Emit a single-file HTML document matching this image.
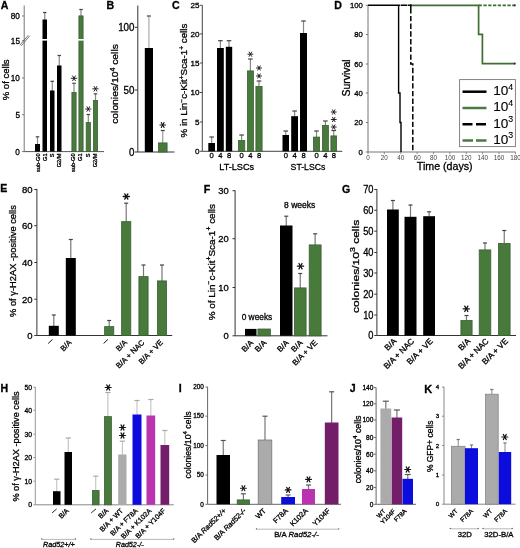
<!DOCTYPE html>
<html><head><meta charset="utf-8"><style>
html,body{margin:0;padding:0;background:#fff;}
svg{display:block;font-family:"Liberation Sans", sans-serif;filter:blur(0.35px);}
text{stroke:#000;stroke-width:0.3px;}
</style></head><body>
<svg width="520" height="548" viewBox="0 0 520 548">
<rect width="520" height="548" fill="#fff"/>
<text x="0.75" y="8.6" font-size="10.6" font-weight="bold" fill="#000">A</text>
<line x1="24.2" y1="5.5" x2="24.2" y2="151.6" stroke="#777" stroke-width="1" />
<line x1="22" y1="16" x2="24.2" y2="16" stroke="#777" stroke-width="1" />
<text x="19.91" y="18.94" font-size="8.2" text-anchor="end" fill="#000">80</text>
<line x1="22" y1="40.7" x2="24.2" y2="40.7" stroke="#777" stroke-width="1" />
<text x="19.94" y="43.64" font-size="8.2" text-anchor="end" fill="#000">15</text>
<line x1="22" y1="78" x2="24.2" y2="78" stroke="#777" stroke-width="1" />
<text x="19.91" y="80.94" font-size="8.2" text-anchor="end" fill="#000">10</text>
<line x1="22" y1="114.7" x2="24.2" y2="114.7" stroke="#777" stroke-width="1" />
<text x="19.94" y="117.64" font-size="8.2" text-anchor="end" fill="#000">5</text>
<line x1="22" y1="151.6" x2="24.2" y2="151.6" stroke="#777" stroke-width="1" />
<text x="19.91" y="154.54" font-size="8.2" text-anchor="end" fill="#000">0</text>
<line x1="19.8" y1="45.3" x2="28.2" y2="35.3" stroke="#555" stroke-width="0.8" />
<line x1="21.3" y1="45.8" x2="29.7" y2="35.8" stroke="#555" stroke-width="0.8" />
<line x1="24.2" y1="151.6" x2="104" y2="151.6" stroke="#555" stroke-width="1" />
<line x1="37.5" y1="136.8" x2="37.5" y2="144.5" stroke="#888" stroke-width="1.2" />
<line x1="35.75" y1="136.8" x2="39.25" y2="136.8" stroke="#444" stroke-width="1.2" />
<rect x="35" y="144" width="5" height="7.6" fill="#000"/>
<line x1="44.75" y1="12.5" x2="44.75" y2="20" stroke="#888" stroke-width="1.2" />
<line x1="43" y1="12.5" x2="46.5" y2="12.5" stroke="#444" stroke-width="1.2" />
<rect x="42.5" y="19.5" width="4.5" height="132.1" fill="#000"/>
<line x1="52.25" y1="81.3" x2="52.25" y2="91" stroke="#888" stroke-width="1.2" />
<line x1="50.5" y1="81.3" x2="54" y2="81.3" stroke="#444" stroke-width="1.2" />
<rect x="50" y="90.5" width="4.5" height="61.1" fill="#000"/>
<line x1="59.25" y1="55.5" x2="59.25" y2="66" stroke="#888" stroke-width="1.2" />
<line x1="57.5" y1="55.5" x2="61" y2="55.5" stroke="#444" stroke-width="1.2" />
<rect x="57" y="65.5" width="4.5" height="86.1" fill="#000"/>
<line x1="74" y1="83.3" x2="74" y2="92.5" stroke="#888" stroke-width="1.2" />
<line x1="72.25" y1="83.3" x2="75.75" y2="83.3" stroke="#444" stroke-width="1.2" />
<rect x="71.9" y="92.4" width="4.2" height="59.2" fill="#487a3c" stroke="#3d6036" stroke-width="0.8"/>
<line x1="71.3" y1="78.3" x2="76.7" y2="78.3" stroke="#111" stroke-width="0.9" stroke-linecap="round"/>
<line x1="72.65" y1="75.96" x2="75.35" y2="80.64" stroke="#111" stroke-width="0.9" stroke-linecap="round"/>
<line x1="75.35" y1="75.96" x2="72.65" y2="80.64" stroke="#111" stroke-width="0.9" stroke-linecap="round"/>
<line x1="81" y1="9.5" x2="81" y2="16" stroke="#888" stroke-width="1.2" />
<line x1="79.25" y1="9.5" x2="82.75" y2="9.5" stroke="#444" stroke-width="1.2" />
<rect x="78.9" y="15.9" width="4.2" height="135.7" fill="#487a3c" stroke="#3d6036" stroke-width="0.8"/>
<line x1="88.3" y1="114.5" x2="88.3" y2="122.5" stroke="#888" stroke-width="1.2" />
<line x1="86.55" y1="114.5" x2="90.05" y2="114.5" stroke="#444" stroke-width="1.2" />
<rect x="86.2" y="122.4" width="4.2" height="29.2" fill="#487a3c" stroke="#3d6036" stroke-width="0.8"/>
<line x1="85.6" y1="109" x2="91" y2="109" stroke="#111" stroke-width="0.9" stroke-linecap="round"/>
<line x1="86.95" y1="106.66" x2="89.65" y2="111.34" stroke="#111" stroke-width="0.9" stroke-linecap="round"/>
<line x1="89.65" y1="106.66" x2="86.95" y2="111.34" stroke="#111" stroke-width="0.9" stroke-linecap="round"/>
<line x1="95.5" y1="93.8" x2="95.5" y2="100.5" stroke="#888" stroke-width="1.2" />
<line x1="93.75" y1="93.8" x2="97.25" y2="93.8" stroke="#444" stroke-width="1.2" />
<rect x="93.4" y="100.4" width="4.2" height="51.2" fill="#487a3c" stroke="#3d6036" stroke-width="0.8"/>
<line x1="92.8" y1="88.8" x2="98.2" y2="88.8" stroke="#111" stroke-width="0.9" stroke-linecap="round"/>
<line x1="94.15" y1="86.46" x2="96.85" y2="91.14" stroke="#111" stroke-width="0.9" stroke-linecap="round"/>
<line x1="96.85" y1="86.46" x2="94.15" y2="91.14" stroke="#111" stroke-width="0.9" stroke-linecap="round"/>
<rect x="42" y="39" width="5.5" height="1.6" fill="#fff"/>
<rect x="78" y="39" width="6" height="1.6" fill="#fff"/>
<text x="39.8" y="153.4" font-size="5.7" text-anchor="end" fill="#000" transform="rotate(-90 39.8 153.4)">sub-G0</text>
<text x="46.7" y="153.4" font-size="5.7" text-anchor="end" fill="#000" transform="rotate(-90 46.7 153.4)">G1</text>
<text x="54" y="153.4" font-size="5.7" text-anchor="end" fill="#000" transform="rotate(-90 54 153.4)">S</text>
<text x="61.2" y="153.4" font-size="5.7" text-anchor="end" fill="#000" transform="rotate(-90 61.2 153.4)">G2/M</text>
<text x="75.4" y="153.4" font-size="5.7" text-anchor="end" fill="#000" transform="rotate(-90 75.4 153.4)">sub-G0</text>
<text x="82.3" y="153.4" font-size="5.7" text-anchor="end" fill="#000" transform="rotate(-90 82.3 153.4)">G1</text>
<text x="89.6" y="153.4" font-size="5.7" text-anchor="end" fill="#000" transform="rotate(-90 89.6 153.4)">S</text>
<text x="97.4" y="153.4" font-size="5.7" text-anchor="end" fill="#000" transform="rotate(-90 97.4 153.4)">G2/M</text>
<text x="0" y="0" font-size="9.5" fill="#000" transform="translate(8.9 100.33) rotate(-90)" textLength="40.88" lengthAdjust="spacingAndGlyphs">% of cells</text>
<text x="106.6" y="8.5" font-size="10.6" font-weight="bold" fill="#000">B</text>
<line x1="137.8" y1="5.5" x2="137.8" y2="152" stroke="#333" stroke-width="1" />
<line x1="134.8" y1="27.3" x2="137.8" y2="27.3" stroke="#333" stroke-width="1" />
<text x="134.48" y="30.95" font-size="10.2" text-anchor="end" fill="#000" textLength="16.34" lengthAdjust="spacingAndGlyphs">100</text>
<line x1="134.8" y1="90" x2="137.8" y2="90" stroke="#333" stroke-width="1" />
<text x="134.48" y="93.65" font-size="10.2" text-anchor="end" fill="#000" textLength="10.89" lengthAdjust="spacingAndGlyphs">50</text>
<line x1="134.8" y1="152" x2="137.8" y2="152" stroke="#333" stroke-width="1" />
<text x="134.47" y="155.65" font-size="10.2" text-anchor="end" fill="#000" textLength="5.45" lengthAdjust="spacingAndGlyphs">0</text>
<line x1="137.8" y1="152" x2="174.5" y2="152" stroke="#333" stroke-width="1" />
<line x1="148.9" y1="16" x2="148.9" y2="48.5" stroke="#aaa" stroke-width="1.2" />
<line x1="146.9" y1="16" x2="150.9" y2="16" stroke="#444" stroke-width="1.2" />
<rect x="144.8" y="48" width="8.2" height="104" fill="#000"/>
<line x1="162.75" y1="130.5" x2="162.75" y2="143" stroke="#999" stroke-width="1.2" />
<line x1="160.75" y1="130.5" x2="164.75" y2="130.5" stroke="#444" stroke-width="1.2" />
<rect x="158.4" y="142.9" width="8.7" height="9.1" fill="#487a3c" stroke="#3d6036" stroke-width="0.8"/>
<line x1="159.9" y1="125" x2="165.5" y2="125" stroke="#111" stroke-width="1.1" stroke-linecap="round"/>
<line x1="161.3" y1="122.58" x2="164.1" y2="127.42" stroke="#111" stroke-width="1.1" stroke-linecap="round"/>
<line x1="164.1" y1="122.58" x2="161.3" y2="127.42" stroke="#111" stroke-width="1.1" stroke-linecap="round"/>
<text x="0" y="0" font-size="9.6" fill="#000" transform="translate(118 123.82) rotate(-90)" textLength="79.68" lengthAdjust="spacingAndGlyphs">colonies/10<tspan font-size="6.5" dy="-3.5">4</tspan><tspan dy="3.5"> cells</tspan></text>
<text x="172.07" y="8.6" font-size="10.6" font-weight="bold" fill="#000">C</text>
<line x1="202.3" y1="5.3" x2="202.3" y2="151.3" stroke="#444" stroke-width="1" />
<line x1="200.1" y1="5.3" x2="202.3" y2="5.3" stroke="#444" stroke-width="1" />
<text x="199.43" y="8.2" font-size="8.1" text-anchor="end" fill="#000">25</text>
<line x1="200.1" y1="33.9" x2="202.3" y2="33.9" stroke="#444" stroke-width="1" />
<text x="199.41" y="36.8" font-size="8.1" text-anchor="end" fill="#000">20</text>
<line x1="200.1" y1="63" x2="202.3" y2="63" stroke="#444" stroke-width="1" />
<text x="199.43" y="65.9" font-size="8.1" text-anchor="end" fill="#000">15</text>
<line x1="200.1" y1="92.5" x2="202.3" y2="92.5" stroke="#444" stroke-width="1" />
<text x="199.41" y="95.4" font-size="8.1" text-anchor="end" fill="#000">10</text>
<line x1="200.1" y1="122" x2="202.3" y2="122" stroke="#444" stroke-width="1" />
<text x="199.43" y="124.9" font-size="8.1" text-anchor="end" fill="#000">5</text>
<line x1="200.1" y1="151.3" x2="202.3" y2="151.3" stroke="#444" stroke-width="1" />
<text x="199.41" y="154.2" font-size="8.1" text-anchor="end" fill="#000">0</text>
<line x1="202.3" y1="151.3" x2="342.3" y2="151.3" stroke="#444" stroke-width="1" />
<line x1="211.65" y1="137" x2="211.65" y2="143.5" stroke="#888" stroke-width="1.2" />
<line x1="209.35" y1="137" x2="213.95" y2="137" stroke="#444" stroke-width="1.2" />
<rect x="208.3" y="143" width="6.7" height="8.3" fill="#000"/>
<line x1="220.4" y1="40.7" x2="220.4" y2="48.5" stroke="#888" stroke-width="1.2" />
<line x1="218.1" y1="40.7" x2="222.7" y2="40.7" stroke="#444" stroke-width="1.2" />
<rect x="217" y="48" width="6.8" height="103.3" fill="#000"/>
<line x1="229" y1="40.7" x2="229" y2="47.3" stroke="#888" stroke-width="1.2" />
<line x1="226.7" y1="40.7" x2="231.3" y2="40.7" stroke="#444" stroke-width="1.2" />
<rect x="225.8" y="46.8" width="6.4" height="104.5" fill="#000"/>
<line x1="241.6" y1="135" x2="241.6" y2="140.5" stroke="#888" stroke-width="1.2" />
<line x1="239.3" y1="135" x2="243.9" y2="135" stroke="#444" stroke-width="1.2" />
<rect x="238.4" y="140.4" width="6.4" height="10.9" fill="#487a3c" stroke="#3d6036" stroke-width="0.8"/>
<line x1="250.4" y1="59" x2="250.4" y2="71" stroke="#888" stroke-width="1.2" />
<line x1="248.1" y1="59" x2="252.7" y2="59" stroke="#444" stroke-width="1.2" />
<rect x="247.4" y="70.9" width="6" height="80.4" fill="#487a3c" stroke="#3d6036" stroke-width="0.8"/>
<line x1="247.9" y1="54.2" x2="252.9" y2="54.2" stroke="#111" stroke-width="0.9" stroke-linecap="round"/>
<line x1="249.15" y1="52.03" x2="251.65" y2="56.37" stroke="#111" stroke-width="0.9" stroke-linecap="round"/>
<line x1="251.65" y1="52.03" x2="249.15" y2="56.37" stroke="#111" stroke-width="0.9" stroke-linecap="round"/>
<line x1="259" y1="81" x2="259" y2="86.5" stroke="#888" stroke-width="1.2" />
<line x1="256.7" y1="81" x2="261.3" y2="81" stroke="#444" stroke-width="1.2" />
<rect x="255.9" y="86.4" width="6.2" height="64.9" fill="#487a3c" stroke="#3d6036" stroke-width="0.8"/>
<line x1="256.5" y1="68" x2="261.5" y2="68" stroke="#111" stroke-width="0.9" stroke-linecap="round"/>
<line x1="257.75" y1="65.83" x2="260.25" y2="70.17" stroke="#111" stroke-width="0.9" stroke-linecap="round"/>
<line x1="260.25" y1="65.83" x2="257.75" y2="70.17" stroke="#111" stroke-width="0.9" stroke-linecap="round"/>
<line x1="256.5" y1="76" x2="261.5" y2="76" stroke="#111" stroke-width="0.9" stroke-linecap="round"/>
<line x1="257.75" y1="73.83" x2="260.25" y2="78.17" stroke="#111" stroke-width="0.9" stroke-linecap="round"/>
<line x1="260.25" y1="73.83" x2="257.75" y2="78.17" stroke="#111" stroke-width="0.9" stroke-linecap="round"/>
<line x1="285.75" y1="131" x2="285.75" y2="135.5" stroke="#888" stroke-width="1.2" />
<line x1="283.45" y1="131" x2="288.05" y2="131" stroke="#444" stroke-width="1.2" />
<rect x="282.5" y="135" width="6.5" height="16.3" fill="#000"/>
<line x1="294.6" y1="111" x2="294.6" y2="116.7" stroke="#888" stroke-width="1.2" />
<line x1="292.3" y1="111" x2="296.9" y2="111" stroke="#444" stroke-width="1.2" />
<rect x="291.2" y="116.2" width="6.8" height="35.1" fill="#000"/>
<line x1="303.5" y1="21" x2="303.5" y2="33.5" stroke="#888" stroke-width="1.2" />
<line x1="301.2" y1="21" x2="305.8" y2="21" stroke="#444" stroke-width="1.2" />
<rect x="300" y="33" width="7" height="118.3" fill="#000"/>
<line x1="316.5" y1="131" x2="316.5" y2="137.2" stroke="#888" stroke-width="1.2" />
<line x1="314.2" y1="131" x2="318.8" y2="131" stroke="#444" stroke-width="1.2" />
<rect x="313.4" y="137.1" width="6.2" height="14.2" fill="#487a3c" stroke="#3d6036" stroke-width="0.8"/>
<line x1="325.4" y1="121" x2="325.4" y2="125.5" stroke="#888" stroke-width="1.2" />
<line x1="323.1" y1="121" x2="327.7" y2="121" stroke="#444" stroke-width="1.2" />
<rect x="322.4" y="125.4" width="6" height="25.9" fill="#487a3c" stroke="#3d6036" stroke-width="0.8"/>
<line x1="333.75" y1="130.5" x2="333.75" y2="136" stroke="#888" stroke-width="1.2" />
<line x1="331.45" y1="130.5" x2="336.05" y2="130.5" stroke="#444" stroke-width="1.2" />
<rect x="330.9" y="135.9" width="5.7" height="15.4" fill="#487a3c" stroke="#3d6036" stroke-width="0.8"/>
<line x1="331.25" y1="112" x2="336.25" y2="112" stroke="#111" stroke-width="0.9" stroke-linecap="round"/>
<line x1="332.5" y1="109.83" x2="335" y2="114.17" stroke="#111" stroke-width="0.9" stroke-linecap="round"/>
<line x1="335" y1="109.83" x2="332.5" y2="114.17" stroke="#111" stroke-width="0.9" stroke-linecap="round"/>
<line x1="331.25" y1="119.5" x2="336.25" y2="119.5" stroke="#111" stroke-width="0.9" stroke-linecap="round"/>
<line x1="332.5" y1="117.33" x2="335" y2="121.67" stroke="#111" stroke-width="0.9" stroke-linecap="round"/>
<line x1="335" y1="117.33" x2="332.5" y2="121.67" stroke="#111" stroke-width="0.9" stroke-linecap="round"/>
<line x1="331.25" y1="127" x2="336.25" y2="127" stroke="#111" stroke-width="0.9" stroke-linecap="round"/>
<line x1="332.5" y1="124.83" x2="335" y2="129.17" stroke="#111" stroke-width="0.9" stroke-linecap="round"/>
<line x1="335" y1="124.83" x2="332.5" y2="129.17" stroke="#111" stroke-width="0.9" stroke-linecap="round"/>
<text x="211.5" y="158.2" font-size="7.6" text-anchor="middle" fill="#000">0</text>
<text x="220.4" y="158.2" font-size="7.6" text-anchor="middle" fill="#000">4</text>
<text x="229" y="158.2" font-size="7.6" text-anchor="middle" fill="#000">8</text>
<text x="241.6" y="158.2" font-size="7.6" text-anchor="middle" fill="#000">0</text>
<text x="250.4" y="158.2" font-size="7.6" text-anchor="middle" fill="#000">4</text>
<text x="259" y="158.2" font-size="7.6" text-anchor="middle" fill="#000">8</text>
<text x="285.8" y="158.2" font-size="7.6" text-anchor="middle" fill="#000">0</text>
<text x="294.6" y="158.2" font-size="7.6" text-anchor="middle" fill="#000">4</text>
<text x="303.5" y="158.2" font-size="7.6" text-anchor="middle" fill="#000">8</text>
<text x="316.5" y="158.2" font-size="7.6" text-anchor="middle" fill="#000">0</text>
<text x="325.4" y="158.2" font-size="7.6" text-anchor="middle" fill="#000">4</text>
<text x="333.8" y="158.2" font-size="7.6" text-anchor="middle" fill="#000">8</text>
<text x="219.25" y="169.8" font-size="9.3" fill="#000" textLength="34.88" lengthAdjust="spacingAndGlyphs">LT-LSCs</text>
<text x="290.61" y="169.8" font-size="9.3" fill="#000" textLength="34.7" lengthAdjust="spacingAndGlyphs">ST-LSCs</text>
<text x="0" y="0" font-size="9.5" fill="#000" transform="translate(187.3 137.53) rotate(-90)" textLength="113.88" lengthAdjust="spacingAndGlyphs">% in Lin<tspan font-size="6.5" dy="-3.5">−</tspan><tspan dy="3.5">c-Kit</tspan><tspan font-size="6.5" dy="-3.5">+</tspan><tspan dy="3.5">Sca-1</tspan><tspan font-size="6.5" dy="-3.5">+</tspan><tspan dy="3.5"> cells</tspan></text>
<text x="334.3" y="8.6" font-size="10.6" font-weight="bold" fill="#000">D</text>
<line x1="368" y1="5.3" x2="368" y2="152" stroke="#777" stroke-width="1" />
<line x1="365.8" y1="5.3" x2="368" y2="5.3" stroke="#777" stroke-width="1" />
<text x="362.9" y="8.2" font-size="8.1" text-anchor="end" fill="#000" textLength="12.84" lengthAdjust="spacingAndGlyphs">100</text>
<line x1="365.8" y1="34.5" x2="368" y2="34.5" stroke="#777" stroke-width="1" />
<text x="362.89" y="37.4" font-size="8.1" text-anchor="end" fill="#000" textLength="8.56" lengthAdjust="spacingAndGlyphs">80</text>
<line x1="365.8" y1="64" x2="368" y2="64" stroke="#777" stroke-width="1" />
<text x="362.89" y="66.9" font-size="8.1" text-anchor="end" fill="#000" textLength="8.56" lengthAdjust="spacingAndGlyphs">60</text>
<line x1="365.8" y1="93" x2="368" y2="93" stroke="#777" stroke-width="1" />
<text x="362.89" y="95.9" font-size="8.1" text-anchor="end" fill="#000" textLength="8.56" lengthAdjust="spacingAndGlyphs">40</text>
<line x1="365.8" y1="122.5" x2="368" y2="122.5" stroke="#777" stroke-width="1" />
<text x="362.89" y="125.4" font-size="8.1" text-anchor="end" fill="#000" textLength="8.56" lengthAdjust="spacingAndGlyphs">20</text>
<line x1="365.8" y1="152" x2="368" y2="152" stroke="#777" stroke-width="1" />
<text x="362.89" y="154.9" font-size="8.1" text-anchor="end" fill="#000" textLength="4.28" lengthAdjust="spacingAndGlyphs">0</text>
<line x1="368" y1="152" x2="515.5" y2="152" stroke="#777" stroke-width="1" />
<line x1="368" y1="152" x2="368" y2="154.2" stroke="#777" stroke-width="0.8" />
<text x="368" y="160.3" font-size="6.3" text-anchor="middle" fill="#444" style="stroke:none">0</text>
<line x1="384.38" y1="152" x2="384.38" y2="154.2" stroke="#777" stroke-width="0.8" />
<text x="384.38" y="160.3" font-size="6.3" text-anchor="middle" fill="#444" style="stroke:none">20</text>
<line x1="400.76" y1="152" x2="400.76" y2="154.2" stroke="#777" stroke-width="0.8" />
<text x="400.76" y="160.3" font-size="6.3" text-anchor="middle" fill="#444" style="stroke:none">40</text>
<line x1="417.14" y1="152" x2="417.14" y2="154.2" stroke="#777" stroke-width="0.8" />
<text x="417.14" y="160.3" font-size="6.3" text-anchor="middle" fill="#444" style="stroke:none">60</text>
<line x1="433.52" y1="152" x2="433.52" y2="154.2" stroke="#777" stroke-width="0.8" />
<text x="433.52" y="160.3" font-size="6.3" text-anchor="middle" fill="#444" style="stroke:none">80</text>
<line x1="449.9" y1="152" x2="449.9" y2="154.2" stroke="#777" stroke-width="0.8" />
<text x="449.9" y="160.3" font-size="6.3" text-anchor="middle" fill="#444" style="stroke:none">100</text>
<line x1="466.28" y1="152" x2="466.28" y2="154.2" stroke="#777" stroke-width="0.8" />
<text x="466.28" y="160.3" font-size="6.3" text-anchor="middle" fill="#444" style="stroke:none">120</text>
<line x1="482.66" y1="152" x2="482.66" y2="154.2" stroke="#777" stroke-width="0.8" />
<text x="482.66" y="160.3" font-size="6.3" text-anchor="middle" fill="#444" style="stroke:none">140</text>
<line x1="499.04" y1="152" x2="499.04" y2="154.2" stroke="#777" stroke-width="0.8" />
<text x="499.04" y="160.3" font-size="6.3" text-anchor="middle" fill="#444" style="stroke:none">160</text>
<line x1="515.42" y1="152" x2="515.42" y2="154.2" stroke="#777" stroke-width="0.8" />
<text x="515.42" y="160.3" font-size="6.3" text-anchor="middle" fill="#444" style="stroke:none">180</text>
<text x="416.77" y="169.6" font-size="10.5" fill="#000" textLength="55.9" lengthAdjust="spacingAndGlyphs">Time (days)</text>
<text x="0" y="0" font-size="10" fill="#000" transform="translate(349.6 96.47) rotate(-90)" textLength="37.16" lengthAdjust="spacingAndGlyphs">Survival</text>
<path d="M478.6,5.3 H514.8" stroke="#3f6e35" stroke-width="1.7" fill="none" stroke-dasharray="3.3 1.5"/>
<path d="M410.8,5.3 H478.6 V34.3 H482.4 V63.6 H514.8" stroke="#3f6e35" stroke-width="1.7" fill="none"/>
<circle cx="514.8" cy="5.3" r="1.1" fill="#333"/><circle cx="514.8" cy="63.6" r="1.1" fill="#333"/>
<path d="M410.8,4.6 V64 H412.8 V152" stroke="#000" stroke-width="1.5" fill="none" stroke-dasharray="9 2.3 5.4 2.3 5.4 2.3 5.4 2.3 5.4 2.3 5.4 2.3 5.4 2.3 5.4 2.3 5.4 2.3 5.4 2.3 5.4 2.3 5.4 2.3 5.4 2.3 5.4 2.3 5.4 2.3 5.4 2.3 5.4 2.3 5.4 2.3 5.4 2.3 5.4 2.3"/>
<path d="M368,5.3 H411.4" stroke="#000" stroke-width="1.4" fill="none" stroke-dasharray="32 0.6 6.8 0.6 20"/>
<path d="M398.6,5.3 V93 H400 V122.5 H401 V152" stroke="#000" stroke-width="1.4" fill="none"/>
<rect x="459.6" y="79.6" width="55.8" height="67" fill="#fff" stroke="#777" stroke-width="0.9"/>
<path d="M462.5,91.7 H486.5" stroke="#000" stroke-width="2.5" fill="none" />
<text x="493.2" y="94.9" font-size="13.6" fill="#000" style="stroke-width:0.12px">10<tspan font-size="8.8" dy="-5.4">4</tspan></text>
<path d="M462.5,108 H486.5" stroke="#4a7a40" stroke-width="2.5" fill="none" />
<text x="493.2" y="111.2" font-size="13.6" fill="#000" style="stroke-width:0.12px">10<tspan font-size="8.8" dy="-5.4">4</tspan></text>
<path d="M462.5,124.3 H486.5" stroke="#000" stroke-width="2.5" fill="none" stroke-dasharray="10 3.5"/>
<text x="493.2" y="127.5" font-size="13.6" fill="#000" style="stroke-width:0.12px">10<tspan font-size="8.8" dy="-5.4">3</tspan></text>
<path d="M462.5,140.5 H486.5" stroke="#4a7a40" stroke-width="2.5" fill="none" stroke-dasharray="10.5 3"/>
<text x="493.2" y="143.7" font-size="13.6" fill="#000" style="stroke-width:0.12px">10<tspan font-size="8.8" dy="-5.4">3</tspan></text>
<text x="0.3" y="192.4" font-size="10.6" font-weight="bold" fill="#000">E</text>
<line x1="36.9" y1="188.8" x2="36.9" y2="335.5" stroke="#333" stroke-width="1" />
<line x1="34.3" y1="189.5" x2="36.9" y2="189.5" stroke="#333" stroke-width="1" />
<text x="32.46" y="192.9" font-size="9.5" text-anchor="end" fill="#000">80</text>
<line x1="34.3" y1="225.7" x2="36.9" y2="225.7" stroke="#333" stroke-width="1" />
<text x="32.46" y="229.1" font-size="9.5" text-anchor="end" fill="#000">60</text>
<line x1="34.3" y1="262.5" x2="36.9" y2="262.5" stroke="#333" stroke-width="1" />
<text x="32.46" y="265.9" font-size="9.5" text-anchor="end" fill="#000">40</text>
<line x1="34.3" y1="299.2" x2="36.9" y2="299.2" stroke="#333" stroke-width="1" />
<text x="32.46" y="302.6" font-size="9.5" text-anchor="end" fill="#000">20</text>
<line x1="34.3" y1="335.5" x2="36.9" y2="335.5" stroke="#333" stroke-width="1" />
<text x="32.46" y="338.9" font-size="9.5" text-anchor="end" fill="#000">0</text>
<line x1="36.9" y1="335.5" x2="172.2" y2="335.5" stroke="#333" stroke-width="1" />
<line x1="53.8" y1="315" x2="53.8" y2="326.3" stroke="#777" stroke-width="1.2" />
<line x1="51.8" y1="315" x2="55.8" y2="315" stroke="#444" stroke-width="1.2" />
<rect x="48.8" y="325.8" width="10" height="9.7" fill="#000"/>
<line x1="70.8" y1="239.5" x2="70.8" y2="258.5" stroke="#777" stroke-width="1.2" />
<line x1="68.8" y1="239.5" x2="72.8" y2="239.5" stroke="#444" stroke-width="1.2" />
<rect x="65.8" y="258" width="10" height="77.5" fill="#000"/>
<line x1="109.2" y1="320.5" x2="109.2" y2="326.7" stroke="#777" stroke-width="1.2" />
<line x1="107.2" y1="320.5" x2="111.2" y2="320.5" stroke="#444" stroke-width="1.2" />
<rect x="104.6" y="326.6" width="9.2" height="8.9" fill="#487a3c" stroke="#3d6036" stroke-width="0.8"/>
<line x1="126.2" y1="203.2" x2="126.2" y2="221.7" stroke="#777" stroke-width="1.2" />
<line x1="124.2" y1="203.2" x2="128.2" y2="203.2" stroke="#444" stroke-width="1.2" />
<rect x="121.6" y="221.6" width="9.2" height="113.9" fill="#487a3c" stroke="#3d6036" stroke-width="0.8"/>
<line x1="143.5" y1="265" x2="143.5" y2="276.7" stroke="#777" stroke-width="1.2" />
<line x1="141.5" y1="265" x2="145.5" y2="265" stroke="#444" stroke-width="1.2" />
<rect x="138.9" y="276.6" width="9.2" height="58.9" fill="#487a3c" stroke="#3d6036" stroke-width="0.8"/>
<line x1="162" y1="265" x2="162" y2="281" stroke="#777" stroke-width="1.2" />
<line x1="160" y1="265" x2="164" y2="265" stroke="#444" stroke-width="1.2" />
<rect x="157.4" y="280.9" width="9.2" height="54.6" fill="#487a3c" stroke="#3d6036" stroke-width="0.8"/>
<line x1="123.2" y1="196.5" x2="129.4" y2="196.5" stroke="#111" stroke-width="1.3" stroke-linecap="round"/>
<line x1="124.75" y1="193.82" x2="127.85" y2="199.18" stroke="#111" stroke-width="1.3" stroke-linecap="round"/>
<line x1="127.85" y1="193.82" x2="124.75" y2="199.18" stroke="#111" stroke-width="1.3" stroke-linecap="round"/>
<line x1="48.2" y1="343.5" x2="52.5" y2="339.4" stroke="#111" stroke-width="1" />
<line x1="103.6" y1="343.5" x2="107.9" y2="339.4" stroke="#111" stroke-width="1" />
<text x="72.2" y="343" font-size="7.6" text-anchor="end" fill="#000" transform="rotate(-45 72.2 343)">B/A</text>
<text x="127.6" y="343" font-size="7.6" text-anchor="end" fill="#000" transform="rotate(-45 127.6 343)">B/A</text>
<text x="144.9" y="343" font-size="7.6" text-anchor="end" fill="#000" transform="rotate(-45 144.9 343)">B/A + NAC</text>
<text x="163.4" y="343" font-size="7.6" text-anchor="end" fill="#000" transform="rotate(-45 163.4 343)">B/A + VE</text>
<text x="0" y="0" font-size="9.3" fill="#000" transform="translate(16 316.93) rotate(-90)" textLength="111.76" lengthAdjust="spacingAndGlyphs">% of γ-H2AX -positive cells</text>
<text x="203.8" y="193" font-size="10.6" font-weight="bold" fill="#000">F</text>
<line x1="235.1" y1="190.5" x2="235.1" y2="335.8" stroke="#333" stroke-width="1" />
<line x1="232.5" y1="190.7" x2="235.1" y2="190.7" stroke="#333" stroke-width="1" />
<text x="228.66" y="194.07" font-size="9.4" text-anchor="end" fill="#000">30</text>
<line x1="232.5" y1="238.7" x2="235.1" y2="238.7" stroke="#333" stroke-width="1" />
<text x="228.66" y="242.07" font-size="9.4" text-anchor="end" fill="#000">20</text>
<line x1="232.5" y1="287.5" x2="235.1" y2="287.5" stroke="#333" stroke-width="1" />
<text x="228.66" y="290.87" font-size="9.4" text-anchor="end" fill="#000">10</text>
<line x1="232.5" y1="335.8" x2="235.1" y2="335.8" stroke="#333" stroke-width="1" />
<text x="228.66" y="339.17" font-size="9.4" text-anchor="end" fill="#000">0</text>
<line x1="235.1" y1="335.8" x2="327.5" y2="335.8" stroke="#333" stroke-width="1" />
<rect x="245" y="328.9" width="11.5" height="6.9" fill="#000"/>
<rect x="257.9" y="329" width="12.5" height="6.8" fill="#487a3c" stroke="#3d6036" stroke-width="0.8"/>
<line x1="286.25" y1="216.2" x2="286.25" y2="226" stroke="#777" stroke-width="1.2" />
<line x1="284.25" y1="216.2" x2="288.25" y2="216.2" stroke="#444" stroke-width="1.2" />
<rect x="280" y="225.5" width="12.5" height="110.3" fill="#000"/>
<line x1="300.25" y1="273.5" x2="300.25" y2="288" stroke="#777" stroke-width="1.2" />
<line x1="298.25" y1="273.5" x2="302.25" y2="273.5" stroke="#444" stroke-width="1.2" />
<rect x="294.4" y="287.9" width="11.7" height="47.9" fill="#487a3c" stroke="#3d6036" stroke-width="0.8"/>
<line x1="315.15" y1="233.8" x2="315.15" y2="245" stroke="#777" stroke-width="1.2" />
<line x1="313.15" y1="233.8" x2="317.15" y2="233.8" stroke="#444" stroke-width="1.2" />
<rect x="309.2" y="244.9" width="11.9" height="90.9" fill="#487a3c" stroke="#3d6036" stroke-width="0.8"/>
<line x1="297.4" y1="266.2" x2="303.6" y2="266.2" stroke="#111" stroke-width="1.3" stroke-linecap="round"/>
<line x1="298.95" y1="263.52" x2="302.05" y2="268.88" stroke="#111" stroke-width="1.3" stroke-linecap="round"/>
<line x1="302.05" y1="263.52" x2="298.95" y2="268.88" stroke="#111" stroke-width="1.3" stroke-linecap="round"/>
<text x="241.67" y="320" font-size="8.4" fill="#000" textLength="30.63" lengthAdjust="spacingAndGlyphs">0 weeks</text>
<text x="284.13" y="208" font-size="8.4" fill="#000" textLength="31.18" lengthAdjust="spacingAndGlyphs">8 weeks</text>
<text x="253.7" y="343.4" font-size="7.9" text-anchor="end" fill="#000" transform="rotate(-45 253.7 343.4)">B/A</text>
<text x="267" y="343.4" font-size="7.9" text-anchor="end" fill="#000" transform="rotate(-45 267 343.4)">B/A</text>
<text x="289.2" y="343.4" font-size="7.9" text-anchor="end" fill="#000" transform="rotate(-45 289.2 343.4)">B/A</text>
<text x="303.2" y="343.4" font-size="7.9" text-anchor="end" fill="#000" transform="rotate(-45 303.2 343.4)">B/A</text>
<text x="318" y="343.4" font-size="7.9" text-anchor="end" fill="#000" transform="rotate(-45 318 343.4)">B/A + VE</text>
<text x="0" y="0" font-size="9.5" fill="#000" transform="translate(214.5 320.34) rotate(-90)" textLength="116.39" lengthAdjust="spacingAndGlyphs">% of Lin<tspan font-size="6.5" dy="-3.5">−</tspan><tspan dy="3.5">c-Kit</tspan><tspan font-size="6.5" dy="-3.5">+</tspan><tspan dy="3.5">Sca-1</tspan><tspan font-size="6.5" dy="-3.5">+</tspan><tspan dy="3.5"> cells</tspan></text>
<text x="342.07" y="192.6" font-size="10.6" font-weight="bold" fill="#000">G</text>
<line x1="376.9" y1="189" x2="376.9" y2="335.5" stroke="#333" stroke-width="1" />
<line x1="374.3" y1="189.5" x2="376.9" y2="189.5" stroke="#333" stroke-width="1" />
<text x="373.46" y="193.15" font-size="10.2" text-anchor="end" fill="#000" textLength="10.32" lengthAdjust="spacingAndGlyphs">70</text>
<line x1="374.3" y1="210.3" x2="376.9" y2="210.3" stroke="#333" stroke-width="1" />
<text x="373.46" y="213.95" font-size="10.2" text-anchor="end" fill="#000" textLength="10.32" lengthAdjust="spacingAndGlyphs">60</text>
<line x1="374.3" y1="231.2" x2="376.9" y2="231.2" stroke="#333" stroke-width="1" />
<text x="373.46" y="234.85" font-size="10.2" text-anchor="end" fill="#000" textLength="10.32" lengthAdjust="spacingAndGlyphs">50</text>
<line x1="374.3" y1="252.5" x2="376.9" y2="252.5" stroke="#333" stroke-width="1" />
<text x="373.46" y="256.15" font-size="10.2" text-anchor="end" fill="#000" textLength="10.32" lengthAdjust="spacingAndGlyphs">40</text>
<line x1="374.3" y1="273" x2="376.9" y2="273" stroke="#333" stroke-width="1" />
<text x="373.46" y="276.65" font-size="10.2" text-anchor="end" fill="#000" textLength="10.32" lengthAdjust="spacingAndGlyphs">30</text>
<line x1="374.3" y1="294.2" x2="376.9" y2="294.2" stroke="#333" stroke-width="1" />
<text x="373.46" y="297.85" font-size="10.2" text-anchor="end" fill="#000" textLength="10.32" lengthAdjust="spacingAndGlyphs">20</text>
<line x1="374.3" y1="315" x2="376.9" y2="315" stroke="#333" stroke-width="1" />
<text x="373.46" y="318.65" font-size="10.2" text-anchor="end" fill="#000" textLength="10.32" lengthAdjust="spacingAndGlyphs">10</text>
<line x1="374.3" y1="335.5" x2="376.9" y2="335.5" stroke="#333" stroke-width="1" />
<text x="373.45" y="339.15" font-size="10.2" text-anchor="end" fill="#000" textLength="5.16" lengthAdjust="spacingAndGlyphs">0</text>
<line x1="376.9" y1="335.5" x2="516" y2="335.5" stroke="#333" stroke-width="1" />
<line x1="392.9" y1="200.5" x2="392.9" y2="210" stroke="#777" stroke-width="1.2" />
<line x1="390.9" y1="200.5" x2="394.9" y2="200.5" stroke="#444" stroke-width="1.2" />
<rect x="387" y="209.5" width="11.8" height="126" fill="#000"/>
<line x1="410.5" y1="205" x2="410.5" y2="217.3" stroke="#777" stroke-width="1.2" />
<line x1="408.5" y1="205" x2="412.5" y2="205" stroke="#444" stroke-width="1.2" />
<rect x="404.5" y="216.8" width="12" height="118.7" fill="#000"/>
<line x1="429.1" y1="211.8" x2="429.1" y2="216.7" stroke="#777" stroke-width="1.2" />
<line x1="427.1" y1="211.8" x2="431.1" y2="211.8" stroke="#444" stroke-width="1.2" />
<rect x="423.2" y="216.2" width="11.8" height="119.3" fill="#000"/>
<line x1="466.5" y1="315.5" x2="466.5" y2="320.5" stroke="#777" stroke-width="1.2" />
<line x1="464.5" y1="315.5" x2="468.5" y2="315.5" stroke="#444" stroke-width="1.2" />
<rect x="460.9" y="320.4" width="11.2" height="15.1" fill="#487a3c" stroke="#3d6036" stroke-width="0.8"/>
<line x1="485" y1="243" x2="485" y2="250" stroke="#777" stroke-width="1.2" />
<line x1="483" y1="243" x2="487" y2="243" stroke="#444" stroke-width="1.2" />
<rect x="479.2" y="249.9" width="11.6" height="85.6" fill="#487a3c" stroke="#3d6036" stroke-width="0.8"/>
<line x1="504.25" y1="230.5" x2="504.25" y2="243.5" stroke="#777" stroke-width="1.2" />
<line x1="502.25" y1="230.5" x2="506.25" y2="230.5" stroke="#444" stroke-width="1.2" />
<rect x="498.4" y="243.4" width="11.7" height="92.1" fill="#487a3c" stroke="#3d6036" stroke-width="0.8"/>
<line x1="463.2" y1="308.8" x2="469.4" y2="308.8" stroke="#111" stroke-width="1.3" stroke-linecap="round"/>
<line x1="464.75" y1="306.12" x2="467.85" y2="311.48" stroke="#111" stroke-width="1.3" stroke-linecap="round"/>
<line x1="467.85" y1="306.12" x2="464.75" y2="311.48" stroke="#111" stroke-width="1.3" stroke-linecap="round"/>
<text x="397.2" y="341.7" font-size="8.2" text-anchor="end" fill="#000" transform="rotate(-45 397.2 341.7)">B/A</text>
<text x="414.8" y="341.7" font-size="8.2" text-anchor="end" fill="#000" transform="rotate(-45 414.8 341.7)">B/A + NAC</text>
<text x="433.4" y="341.7" font-size="8.2" text-anchor="end" fill="#000" transform="rotate(-45 433.4 341.7)">B/A + VE</text>
<text x="470.8" y="341.7" font-size="8.2" text-anchor="end" fill="#000" transform="rotate(-45 470.8 341.7)">B/A</text>
<text x="489.3" y="341.7" font-size="8.2" text-anchor="end" fill="#000" transform="rotate(-45 489.3 341.7)">B/A + NAC</text>
<text x="508.5" y="341.7" font-size="8.2" text-anchor="end" fill="#000" transform="rotate(-45 508.5 341.7)">B/A + VE</text>
<text x="0" y="0" font-size="9.8" fill="#000" transform="translate(359.2 312.9) rotate(-90)" textLength="93.12" lengthAdjust="spacingAndGlyphs">colonies/10<tspan font-size="7.2" dy="-4.2">3</tspan><tspan dy="4.2"> cells</tspan></text>
<text x="0.55" y="392.4" font-size="10.6" font-weight="bold" fill="#000">H</text>
<line x1="35.3" y1="387" x2="35.3" y2="504.8" stroke="#999" stroke-width="1" />
<line x1="33.3" y1="387.2" x2="35.3" y2="387.2" stroke="#999" stroke-width="1" />
<text x="31.96" y="389.63" font-size="6.8" text-anchor="end" fill="#000">50</text>
<line x1="33.3" y1="410.3" x2="35.3" y2="410.3" stroke="#999" stroke-width="1" />
<text x="31.96" y="412.73" font-size="6.8" text-anchor="end" fill="#000">40</text>
<line x1="33.3" y1="434.2" x2="35.3" y2="434.2" stroke="#999" stroke-width="1" />
<text x="31.96" y="436.63" font-size="6.8" text-anchor="end" fill="#000">30</text>
<line x1="33.3" y1="457.5" x2="35.3" y2="457.5" stroke="#999" stroke-width="1" />
<text x="31.96" y="459.93" font-size="6.8" text-anchor="end" fill="#000">20</text>
<line x1="33.3" y1="481.2" x2="35.3" y2="481.2" stroke="#999" stroke-width="1" />
<text x="31.96" y="483.63" font-size="6.8" text-anchor="end" fill="#000">10</text>
<line x1="33.3" y1="504.8" x2="35.3" y2="504.8" stroke="#999" stroke-width="1" />
<text x="31.96" y="507.23" font-size="6.8" text-anchor="end" fill="#000">0</text>
<line x1="35.3" y1="504.8" x2="173.8" y2="504.8" stroke="#888" stroke-width="1" />
<line x1="56.75" y1="479.2" x2="56.75" y2="491.7" stroke="#bbb" stroke-width="1" />
<line x1="54.15" y1="479.2" x2="59.35" y2="479.2" stroke="#aaa" stroke-width="1.2" />
<rect x="53" y="491.2" width="7.5" height="13.6" fill="#000"/>
<line x1="68.25" y1="438" x2="68.25" y2="452.5" stroke="#bbb" stroke-width="1" />
<line x1="65.65" y1="438" x2="70.85" y2="438" stroke="#aaa" stroke-width="1.2" />
<rect x="64.5" y="452" width="7.5" height="52.8" fill="#000"/>
<line x1="95.75" y1="476.2" x2="95.75" y2="490.5" stroke="#bbb" stroke-width="1" />
<line x1="93.15" y1="476.2" x2="98.35" y2="476.2" stroke="#aaa" stroke-width="1.2" />
<rect x="92.4" y="490.4" width="6.7" height="14.4" fill="#487a3c" stroke="#3d6036" stroke-width="0.8"/>
<line x1="107.9" y1="392.5" x2="107.9" y2="416.7" stroke="#bbb" stroke-width="1" />
<line x1="105.3" y1="392.5" x2="110.5" y2="392.5" stroke="#aaa" stroke-width="1.2" />
<rect x="104.4" y="416.6" width="7" height="88.2" fill="#487a3c" stroke="#3d6036" stroke-width="0.8"/>
<line x1="122.35" y1="441.2" x2="122.35" y2="455" stroke="#bbb" stroke-width="1" />
<line x1="119.75" y1="441.2" x2="124.95" y2="441.2" stroke="#aaa" stroke-width="1.2" />
<rect x="118.2" y="454.5" width="8.3" height="50.3" fill="#ababab"/>
<line x1="137" y1="400.5" x2="137" y2="415" stroke="#bbb" stroke-width="1" />
<line x1="134.4" y1="400.5" x2="139.6" y2="400.5" stroke="#aaa" stroke-width="1.2" />
<rect x="132.5" y="414.5" width="9" height="90.3" fill="#0c0cdc"/>
<line x1="150.85" y1="399.5" x2="150.85" y2="416" stroke="#bbb" stroke-width="1" />
<line x1="148.25" y1="399.5" x2="153.45" y2="399.5" stroke="#aaa" stroke-width="1.2" />
<rect x="146.5" y="415.5" width="8.7" height="89.3" fill="#b934ae"/>
<line x1="164.85" y1="430.5" x2="164.85" y2="445.5" stroke="#bbb" stroke-width="1" />
<line x1="162.25" y1="430.5" x2="167.45" y2="430.5" stroke="#aaa" stroke-width="1.2" />
<rect x="160.5" y="445" width="8.7" height="59.8" fill="#721e68"/>
<line x1="105.2" y1="387.5" x2="111.2" y2="387.5" stroke="#111" stroke-width="1.2" stroke-linecap="round"/>
<line x1="106.7" y1="384.9" x2="109.7" y2="390.1" stroke="#111" stroke-width="1.2" stroke-linecap="round"/>
<line x1="109.7" y1="384.9" x2="106.7" y2="390.1" stroke="#111" stroke-width="1.2" stroke-linecap="round"/>
<line x1="119.5" y1="427.5" x2="125.5" y2="427.5" stroke="#111" stroke-width="1.2" stroke-linecap="round"/>
<line x1="121" y1="424.9" x2="124" y2="430.1" stroke="#111" stroke-width="1.2" stroke-linecap="round"/>
<line x1="124" y1="424.9" x2="121" y2="430.1" stroke="#111" stroke-width="1.2" stroke-linecap="round"/>
<line x1="119.5" y1="435.5" x2="125.5" y2="435.5" stroke="#111" stroke-width="1.2" stroke-linecap="round"/>
<line x1="121" y1="432.9" x2="124" y2="438.1" stroke="#111" stroke-width="1.2" stroke-linecap="round"/>
<line x1="124" y1="432.9" x2="121" y2="438.1" stroke="#111" stroke-width="1.2" stroke-linecap="round"/>
<line x1="52.1" y1="512.9" x2="56.7" y2="508.9" stroke="#111" stroke-width="0.9" />
<line x1="91.2" y1="512.9" x2="96" y2="508.9" stroke="#111" stroke-width="0.9" />
<text x="69.4" y="511.1" font-size="7" text-anchor="end" fill="#000" transform="rotate(-45 69.4 511.1)">B/A</text>
<text x="109.1" y="511.1" font-size="7" text-anchor="end" fill="#000" transform="rotate(-45 109.1 511.1)">B/A</text>
<text x="123.6" y="511.1" font-size="7" text-anchor="end" fill="#000" transform="rotate(-45 123.6 511.1)">B/A + WT</text>
<text x="138.2" y="511.1" font-size="7" text-anchor="end" fill="#000" transform="rotate(-45 138.2 511.1)">B/A + F78A</text>
<text x="152.1" y="511.1" font-size="7" text-anchor="end" fill="#000" transform="rotate(-45 152.1 511.1)">B/A + K102A</text>
<text x="166.1" y="511.1" font-size="7" text-anchor="end" fill="#000" transform="rotate(-45 166.1 511.1)">B/A + Y104F</text>
<line x1="41.7" y1="539.4" x2="75.4" y2="539.4" stroke="#999" stroke-width="0.7" />
<line x1="90.8" y1="539.4" x2="173.8" y2="539.4" stroke="#999" stroke-width="0.7" />
<circle cx="41.7" cy="538.9" r="0.6" fill="#444"/>
<circle cx="75.4" cy="538.9" r="0.6" fill="#444"/>
<circle cx="90.8" cy="538.9" r="0.6" fill="#444"/>
<circle cx="173.8" cy="538.9" r="0.6" fill="#444"/>
<text x="42.98" y="546.6" font-size="7.2" fill="#000" font-style="italic" textLength="31.86" lengthAdjust="spacingAndGlyphs">Rad52+/+</text>
<text x="115.79" y="546.6" font-size="7.2" fill="#000" font-style="italic" textLength="27.77" lengthAdjust="spacingAndGlyphs">Rad52-/-</text>
<text x="0" y="0" font-size="8.6" fill="#000" transform="translate(19.4 501.62) rotate(-90)" textLength="110.35" lengthAdjust="spacingAndGlyphs">% of γ-H2AX -positive cells</text>
<text x="178.8" y="392.4" font-size="10.6" font-weight="bold" fill="#000">I</text>
<line x1="207.6" y1="387" x2="207.6" y2="504.3" stroke="#666" stroke-width="1" />
<line x1="205.6" y1="387" x2="207.6" y2="387" stroke="#666" stroke-width="1" />
<text x="203.85" y="389.29" font-size="6.4" text-anchor="end" fill="#000">200</text>
<line x1="205.6" y1="416.2" x2="207.6" y2="416.2" stroke="#666" stroke-width="1" />
<text x="203.85" y="418.49" font-size="6.4" text-anchor="end" fill="#000">150</text>
<line x1="205.6" y1="445.5" x2="207.6" y2="445.5" stroke="#666" stroke-width="1" />
<text x="203.85" y="447.79" font-size="6.4" text-anchor="end" fill="#000">100</text>
<line x1="205.6" y1="475" x2="207.6" y2="475" stroke="#666" stroke-width="1" />
<text x="203.85" y="477.29" font-size="6.4" text-anchor="end" fill="#000">50</text>
<line x1="205.6" y1="504.3" x2="207.6" y2="504.3" stroke="#666" stroke-width="1" />
<text x="203.84" y="506.59" font-size="6.4" text-anchor="end" fill="#000">0</text>
<line x1="207.6" y1="504.3" x2="341" y2="504.3" stroke="#666" stroke-width="1" />
<line x1="223.25" y1="440.5" x2="223.25" y2="455.5" stroke="#777" stroke-width="1.2" />
<line x1="220.75" y1="440.5" x2="225.75" y2="440.5" stroke="#555" stroke-width="1.2" />
<rect x="216.5" y="455" width="13.5" height="49.3" fill="#000"/>
<line x1="243.4" y1="493.8" x2="243.4" y2="500" stroke="#777" stroke-width="1.2" />
<line x1="240.9" y1="493.8" x2="245.9" y2="493.8" stroke="#555" stroke-width="1.2" />
<rect x="237.2" y="499.9" width="12.4" height="4.4" fill="#487a3c" stroke="#3d6036" stroke-width="0.8"/>
<line x1="240.5" y1="488.2" x2="246.3" y2="488.2" stroke="#111" stroke-width="1.15" stroke-linecap="round"/>
<line x1="241.95" y1="485.69" x2="244.85" y2="490.71" stroke="#111" stroke-width="1.15" stroke-linecap="round"/>
<line x1="244.85" y1="485.69" x2="241.95" y2="490.71" stroke="#111" stroke-width="1.15" stroke-linecap="round"/>
<line x1="265" y1="416.2" x2="265" y2="440.5" stroke="#777" stroke-width="1.2" />
<line x1="262.5" y1="416.2" x2="267.5" y2="416.2" stroke="#555" stroke-width="1.2" />
<rect x="258.2" y="440" width="13.6" height="64.3" fill="#ababab" stroke="#777" stroke-width="0.8"/>
<line x1="288.1" y1="495" x2="288.1" y2="497.5" stroke="#777" stroke-width="1.2" />
<line x1="285.6" y1="495" x2="290.6" y2="495" stroke="#555" stroke-width="1.2" />
<rect x="281.2" y="497" width="13.8" height="7.3" fill="#0c0cdc"/>
<line x1="285.2" y1="489.9" x2="291" y2="489.9" stroke="#111" stroke-width="1.15" stroke-linecap="round"/>
<line x1="286.65" y1="487.39" x2="289.55" y2="492.41" stroke="#111" stroke-width="1.15" stroke-linecap="round"/>
<line x1="289.55" y1="487.39" x2="286.65" y2="492.41" stroke="#111" stroke-width="1.15" stroke-linecap="round"/>
<line x1="308.5" y1="485" x2="308.5" y2="489.5" stroke="#777" stroke-width="1.2" />
<line x1="306" y1="485" x2="311" y2="485" stroke="#555" stroke-width="1.2" />
<rect x="302" y="489" width="13" height="15.3" fill="#b934ae"/>
<line x1="305.6" y1="479.4" x2="311.4" y2="479.4" stroke="#111" stroke-width="1.15" stroke-linecap="round"/>
<line x1="307.05" y1="476.89" x2="309.95" y2="481.91" stroke="#111" stroke-width="1.15" stroke-linecap="round"/>
<line x1="309.95" y1="476.89" x2="307.05" y2="481.91" stroke="#111" stroke-width="1.15" stroke-linecap="round"/>
<line x1="331.65" y1="391.8" x2="331.65" y2="423" stroke="#777" stroke-width="1.2" />
<line x1="329.15" y1="391.8" x2="334.15" y2="391.8" stroke="#555" stroke-width="1.2" />
<rect x="324.8" y="422.5" width="13.7" height="81.8" fill="#721e68"/>
<text x="226.5" y="511.3" font-size="7.3" text-anchor="end" fill="#000" transform="rotate(-45 226.5 511.3)">B/A <tspan font-style="italic">Rad52+/+</tspan></text>
<text x="246.5" y="511.3" font-size="7.3" text-anchor="end" fill="#000" transform="rotate(-45 246.5 511.3)">B/A <tspan font-style="italic">Rad52-/-</tspan></text>
<text x="266.5" y="511.3" font-size="7.3" text-anchor="end" fill="#000" transform="rotate(-45 266.5 511.3)">WT</text>
<text x="288.4" y="511.3" font-size="7.3" text-anchor="end" fill="#000" transform="rotate(-45 288.4 511.3)">F78A</text>
<text x="308.4" y="511.3" font-size="7.3" text-anchor="end" fill="#000" transform="rotate(-45 308.4 511.3)">K102A</text>
<text x="330.6" y="511.3" font-size="7.3" text-anchor="end" fill="#000" transform="rotate(-45 330.6 511.3)">Y104F</text>
<line x1="256.4" y1="529.2" x2="338.8" y2="529.2" stroke="#999" stroke-width="0.7" />
<circle cx="256.4" cy="528.8" r="0.6" fill="#444"/>
<circle cx="338.8" cy="528.8" r="0.6" fill="#444"/>
<text x="296.5" y="536.6" font-size="7.8" text-anchor="middle" fill="#000">B/A <tspan font-style="italic">Rad52-/-</tspan></text>
<text x="0" y="0" font-size="8.8" fill="#000" transform="translate(191 478.46) rotate(-90)" textLength="67.16" lengthAdjust="spacingAndGlyphs">colonies/10<tspan font-size="6.2" dy="-3.8">4</tspan><tspan dy="3.8"> cells</tspan></text>
<text x="349.84" y="392.4" font-size="10.6" font-weight="bold" fill="#000">J</text>
<line x1="376.1" y1="387.6" x2="376.1" y2="504.3" stroke="#666" stroke-width="1" />
<line x1="374.1" y1="387.6" x2="376.1" y2="387.6" stroke="#666" stroke-width="1" />
<text x="373.45" y="389.96" font-size="6.6" text-anchor="end" fill="#000">140</text>
<line x1="374.1" y1="403.8" x2="376.1" y2="403.8" stroke="#666" stroke-width="1" />
<text x="373.45" y="406.16" font-size="6.6" text-anchor="end" fill="#000">120</text>
<line x1="374.1" y1="420" x2="376.1" y2="420" stroke="#666" stroke-width="1" />
<text x="373.45" y="422.36" font-size="6.6" text-anchor="end" fill="#000">100</text>
<line x1="374.1" y1="437.5" x2="376.1" y2="437.5" stroke="#666" stroke-width="1" />
<text x="373.45" y="439.86" font-size="6.6" text-anchor="end" fill="#000">80</text>
<line x1="374.1" y1="454.2" x2="376.1" y2="454.2" stroke="#666" stroke-width="1" />
<text x="373.45" y="456.56" font-size="6.6" text-anchor="end" fill="#000">60</text>
<line x1="374.1" y1="470.8" x2="376.1" y2="470.8" stroke="#666" stroke-width="1" />
<text x="373.45" y="473.16" font-size="6.6" text-anchor="end" fill="#000">40</text>
<line x1="374.1" y1="487.5" x2="376.1" y2="487.5" stroke="#666" stroke-width="1" />
<text x="373.45" y="489.86" font-size="6.6" text-anchor="end" fill="#000">20</text>
<line x1="374.1" y1="504.3" x2="376.1" y2="504.3" stroke="#666" stroke-width="1" />
<text x="373.45" y="506.66" font-size="6.6" text-anchor="end" fill="#000">0</text>
<line x1="376.1" y1="504.3" x2="416" y2="504.3" stroke="#666" stroke-width="1" />
<line x1="385.8" y1="401.2" x2="385.8" y2="409" stroke="#777" stroke-width="1.2" />
<line x1="382.8" y1="401.2" x2="388.8" y2="401.2" stroke="#555" stroke-width="1.2" />
<rect x="380.4" y="408.5" width="10.8" height="95.8" fill="#ababab"/>
<line x1="396.9" y1="410" x2="396.9" y2="418" stroke="#777" stroke-width="1.2" />
<line x1="393.9" y1="410" x2="399.9" y2="410" stroke="#555" stroke-width="1.2" />
<rect x="391.6" y="417.5" width="10.6" height="86.8" fill="#721e68"/>
<line x1="407.75" y1="474.5" x2="407.75" y2="479.3" stroke="#777" stroke-width="1.2" />
<line x1="404.75" y1="474.5" x2="410.75" y2="474.5" stroke="#555" stroke-width="1.2" />
<rect x="402.5" y="478.8" width="10.5" height="25.5" fill="#0c0cdc"/>
<line x1="404.7" y1="469.5" x2="410.7" y2="469.5" stroke="#111" stroke-width="1.2" stroke-linecap="round"/>
<line x1="406.2" y1="466.9" x2="409.2" y2="472.1" stroke="#111" stroke-width="1.2" stroke-linecap="round"/>
<line x1="409.2" y1="466.9" x2="406.2" y2="472.1" stroke="#111" stroke-width="1.2" stroke-linecap="round"/>
<text x="386" y="511.6" font-size="6.2" text-anchor="end" fill="#000" transform="rotate(-45 386 511.6)">WT</text>
<text x="395.8" y="511.6" font-size="6.2" text-anchor="end" fill="#000" transform="rotate(-45 395.8 511.6)">Y104F</text>
<text x="407" y="511.6" font-size="6.2" text-anchor="end" fill="#000" transform="rotate(-45 407 511.6)">F78A</text>
<text x="0" y="0" font-size="8.2" fill="#000" transform="translate(360.5 483.36) rotate(-90)" textLength="67.87" lengthAdjust="spacingAndGlyphs">colonies/10<tspan font-size="6" dy="-3.5">4</tspan><tspan dy="3.5"> cells</tspan></text>
<text x="424.27" y="392.5" font-size="11" font-weight="bold" fill="#000">K</text>
<line x1="444" y1="387" x2="444" y2="504.2" stroke="#888" stroke-width="1" />
<line x1="442" y1="387" x2="444" y2="387" stroke="#888" stroke-width="1" />
<text x="439.18" y="389.22" font-size="6.2" text-anchor="end" fill="#000">4</text>
<line x1="442" y1="416.2" x2="444" y2="416.2" stroke="#888" stroke-width="1" />
<text x="439.27" y="418.42" font-size="6.2" text-anchor="end" fill="#000">3</text>
<line x1="442" y1="445.4" x2="444" y2="445.4" stroke="#888" stroke-width="1" />
<text x="439.31" y="447.62" font-size="6.2" text-anchor="end" fill="#000">2</text>
<line x1="442" y1="475" x2="444" y2="475" stroke="#888" stroke-width="1" />
<text x="439.3" y="477.22" font-size="6.2" text-anchor="end" fill="#000">1</text>
<line x1="442" y1="504.2" x2="444" y2="504.2" stroke="#888" stroke-width="1" />
<text x="439.24" y="506.42" font-size="6.2" text-anchor="end" fill="#000">0</text>
<line x1="444" y1="504.2" x2="515.5" y2="504.2" stroke="#888" stroke-width="1" />
<line x1="458.2" y1="439.5" x2="458.2" y2="446.8" stroke="#888" stroke-width="1" />
<line x1="456.6" y1="439.5" x2="459.8" y2="439.5" stroke="#777" stroke-width="1.2" />
<rect x="451.4" y="446.3" width="13.6" height="57.9" fill="#ababab" stroke="#888" stroke-width="0.8"/>
<line x1="471.5" y1="445" x2="471.5" y2="448.7" stroke="#888" stroke-width="1" />
<line x1="469.9" y1="445" x2="473.1" y2="445" stroke="#777" stroke-width="1.2" />
<rect x="465" y="448.2" width="13" height="56" fill="#0c0cdc"/>
<line x1="491.85" y1="389.5" x2="491.85" y2="394.7" stroke="#888" stroke-width="1" />
<line x1="490.25" y1="389.5" x2="493.45" y2="389.5" stroke="#777" stroke-width="1.2" />
<rect x="485.5" y="394.2" width="12.7" height="110" fill="#ababab" stroke="#888" stroke-width="0.8"/>
<line x1="505" y1="443" x2="505" y2="452.5" stroke="#888" stroke-width="1" />
<line x1="503.4" y1="443" x2="506.6" y2="443" stroke="#777" stroke-width="1.2" />
<rect x="498.8" y="452" width="12.4" height="52.2" fill="#0c0cdc"/>
<line x1="501.8" y1="437" x2="507.8" y2="437" stroke="#111" stroke-width="1.15" stroke-linecap="round"/>
<line x1="503.3" y1="434.4" x2="506.3" y2="439.6" stroke="#111" stroke-width="1.15" stroke-linecap="round"/>
<line x1="506.3" y1="434.4" x2="503.3" y2="439.6" stroke="#111" stroke-width="1.15" stroke-linecap="round"/>
<text x="458.3" y="511.6" font-size="6.4" text-anchor="end" fill="#000" transform="rotate(-45 458.3 511.6)">WT</text>
<text x="473.6" y="511.6" font-size="6.4" text-anchor="end" fill="#000" transform="rotate(-45 473.6 511.6)">F78A</text>
<text x="492.8" y="511.6" font-size="6.4" text-anchor="end" fill="#000" transform="rotate(-45 492.8 511.6)">WT</text>
<text x="507.6" y="511.6" font-size="6.4" text-anchor="end" fill="#000" transform="rotate(-45 507.6 511.6)">F78A</text>
<line x1="450.2" y1="528.8" x2="478.2" y2="528.8" stroke="#999" stroke-width="0.7" />
<line x1="483" y1="528.8" x2="512.2" y2="528.8" stroke="#999" stroke-width="0.7" />
<circle cx="450.2" cy="528.4" r="0.6" fill="#444"/>
<circle cx="478.2" cy="528.4" r="0.6" fill="#444"/>
<circle cx="483" cy="528.4" r="0.6" fill="#444"/>
<circle cx="512.2" cy="528.4" r="0.6" fill="#444"/>
<text x="457.71" y="537" font-size="7.4" fill="#000" textLength="14.16" lengthAdjust="spacingAndGlyphs">32D</text>
<text x="484.21" y="537" font-size="7.4" fill="#000" textLength="29.31" lengthAdjust="spacingAndGlyphs">32D-B/A</text>
<text x="0" y="0" font-size="9" fill="#000" transform="translate(433.1 472.1) rotate(-90)" textLength="51.5" lengthAdjust="spacingAndGlyphs">% GFP+ cells</text>
</svg>
</body></html>
